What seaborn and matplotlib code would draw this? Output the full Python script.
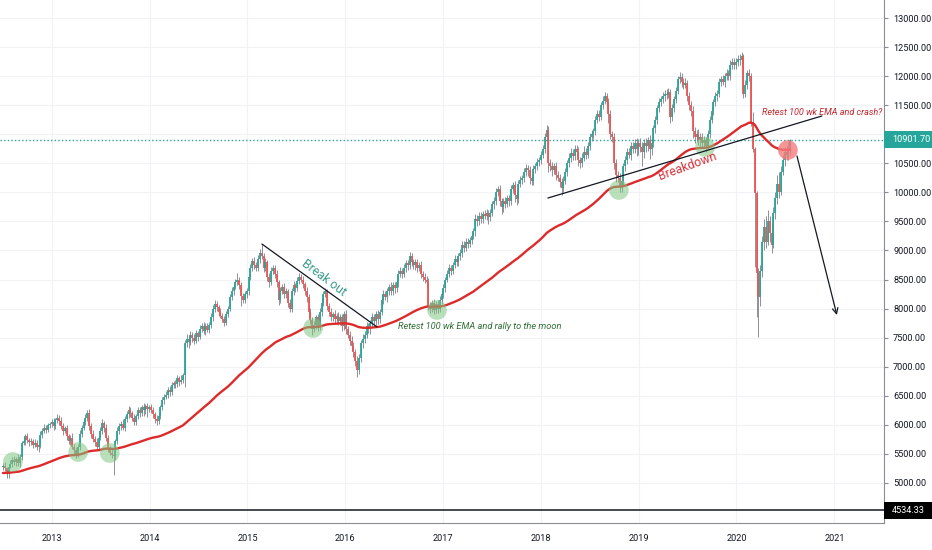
import numpy as np
import pandas as pd
import matplotlib
matplotlib.use("Agg")
import matplotlib.pyplot as plt
from matplotlib.ticker import FixedLocator, FormatStrFormatter
from matplotlib.patches import Rectangle
from matplotlib.transforms import blended_transform_factory
import seaborn as sns

# ---------------- data (weekly closes) ----------------
close_2012 = [5300, 5250, 5150, 5280, 5330, 5400, 5360, 5420, 5340, 5450,
              5680, 5720, 5800, 5740, 5700, 5720, 5660, 5690, 5620, 5650,
              5830, 5900, 5950, 5920, 5990, 6010]
close_2013 = [6050, 5980, 6080, 6120, 6060, 5980, 5900, 5940, 5800, 5720,
              5780, 5620, 5560, 5500, 5620, 5850, 5950, 6050, 6120, 6200,
              5980, 5850, 5760, 5700, 5620, 5780, 5900, 6030, 5950, 5780,
              5600, 5520, 5480, 5460, 5720, 5900, 5980, 6020, 5950, 6100,
              6180, 6250, 6200, 6120, 6050, 6150, 6250, 6200, 6300, 6250,
              6320, 6280]
close_2014 = [6300, 6250, 6180, 6100, 6060, 6150, 6300, 6420, 6480, 6520,
              6600, 6560, 6680, 6720, 6700, 6800, 6740, 6780, 6850, 7400,
              7480, 7420, 7550, 7500, 7450, 7580, 7520, 7650, 7700, 7620,
              7700, 7640, 7720, 7850, 8000, 8080, 8020, 7950, 7880, 7820,
              7760, 7900, 8000, 8200, 8300, 8380, 8450, 8500, 8400, 8220,
              8150, 8250]
close_2015 = [8300, 8550, 8700, 8820, 8750, 8700, 8850, 8950, 8900, 8700,
              8800, 8550, 8450, 8650, 8700, 8600, 8450, 8150, 8300, 8380,
              8250, 8300, 8100, 8000, 8300, 8400, 8350, 8480, 8550, 8500,
              8420, 8300, 8200, 7950, 7800, 7650, 7720, 7850, 7700, 7950,
              8100, 8250, 8300, 8050, 7950, 7850, 7900, 7820, 7880, 7780,
              7850, 7700]
close_2016 = [7900, 7650, 7550, 7450, 7350, 7250, 7100, 6950, 7150, 7400,
              7480, 7550, 7700, 7650, 7750, 7850, 7780, 7900, 7820, 7950,
              8150, 8250, 8200, 8300, 8380, 8300, 8400, 8350, 8450, 8600,
              8650, 8600, 8700, 8780, 8750, 8900, 8800, 8750, 8800, 8700,
              8750, 8600, 8550, 8500, 8450, 8050, 8000, 8100, 7980, 8080,
              8000, 8150]
close_2017 = [8250, 8350, 8500, 8600, 8700, 8650, 8750, 8850, 8800, 8900,
              8950, 9100, 9050, 9150, 9120, 9180, 9250, 9330, 9550, 9500,
              9600, 9550, 9620, 9600, 9650, 9580, 9650, 9800, 9850, 10000,
              10050, 9850, 9750, 9850, 9800, 9900, 9850, 10050, 10120, 9950,
              9880, 10150, 10220, 10250, 10350, 10420, 10380, 10250, 10200, 10400,
              10450, 10520]
close_2018 = [10550, 10650, 10750, 10950, 11080, 10500, 10450, 10380, 10450, 10300,
              10250, 10180, 10080, 10200, 10350, 10500, 10600, 10680, 10620, 10750,
              10700, 10550, 10500, 10600, 10700, 10650, 10800, 10950, 11000, 11050,
              11250, 11350, 11300, 11500, 11580, 11650, 11550, 11350, 11000, 10950,
              10500, 10300, 10250, 10100, 10200, 10450, 10550, 10700, 10650, 10800,
              10750, 10850]
close_2019 = [10750, 10850, 10780, 10700, 10850, 10800, 10900, 10750, 10850, 11100,
              11250, 11450, 11550, 11600, 11650, 11700, 11680, 11720, 11300, 11450,
              11600, 11750, 11950, 11980, 11900, 11850, 11880, 11650, 11500, 11400,
              11050, 10950, 11000, 10900, 10950, 10850, 10900, 10800, 11000, 11250,
              11400, 11550, 11650, 11700, 11900, 11950, 11900, 12000, 12050, 12000,
              12200, 12250]
close_2020 = [12200, 12250, 12300, 12280, 12350, 11700, 11850, 12050, 12000, 11200,
              10750, 9990, 8610, 8200, 8650, 9150, 9400, 9150, 9500, 9300,
              9100, 9650, 9900, 10150, 10000, 10350, 10550, 10700, 10650, 10750,
              10901.7]

# upper / lower wick lengths (points) per week
up_2012 = [40, 60, 30, 50, 70, 40, 60, 35, 80, 50, 40, 70, 45, 60, 30, 55, 40, 65, 50, 35,
           60, 45, 70, 40, 50, 35]
lo_2012 = [60, 40, 60, 70, 30, 50, 45, 70, 40, 60, 50, 30, 60, 45, 70, 40, 55, 35, 60, 80,
           40, 55, 35, 60, 45, 50]
up_2013 = [50, 70, 40, 60, 45, 80, 55, 40, 65, 50, 40, 75, 50, 60, 45, 70, 40, 55, 60, 50,
           80, 45, 60, 50, 70, 40, 55, 65, 45, 60, 50, 40, 70, 55, 45, 60, 50, 40, 75, 45,
           60, 70, 50, 45, 60, 40, 55, 65, 50, 70, 45, 60]
lo_2013 = [45, 60, 50, 40, 70, 55, 80, 45, 60, 50, 65, 40, 55, 70, 45, 50, 60, 40, 55, 45,
           60, 70, 50, 65, 45, 55, 40, 60, 75, 50, 60, 45, 55, 320, 60, 45, 50, 70, 40, 55,
           45, 60, 70, 50, 60, 45, 55, 70, 45, 100, 55, 150]
up_2014 = [40, 60, 50, 45, 70, 55, 40, 60, 50, 65, 45, 70, 50, 40, 60, 55, 45, 70, 50, 60,
           80, 50, 60, 45, 70, 55, 40, 65, 50, 75, 45, 60, 50, 70, 55, 60, 45, 50, 65, 40,
           55, 60, 50, 45, 70, 55, 60, 110, 45, 60, 50, 55]
lo_2014 = [55, 45, 60, 70, 60, 40, 50, 45, 60, 40, 55, 65, 45, 50, 60, 40, 70, 45, 55, 200,
           60, 90, 45, 70, 60, 50, 80, 45, 60, 55, 70, 50, 60, 45, 55, 50, 65, 70, 45, 55,
           60, 40, 50, 45, 55, 60, 50, 45, 70, 180, 60, 50]
up_2015 = [60, 50, 70, 55, 60, 45, 70, 80, 160, 60, 70, 45, 60, 70, 55, 50, 60, 45, 70, 50,
           60, 55, 45, 60, 50, 70, 45, 60, 55, 50, 60, 45, 70, 55, 60, 50, 70, 45, 60, 55,
           70, 50, 60, 45, 55, 60, 50, 70, 45, 60, 50, 55]
lo_2015 = [70, 60, 50, 60, 70, 45, 55, 60, 50, 70, 60, 80, 70, 50, 60, 70, 80, 90, 60, 50,
           70, 60, 80, 60, 50, 60, 70, 55, 60, 50, 70, 60, 80, 90, 70, 100, 60, 70, 80, 60,
           70, 60, 50, 80, 70, 60, 55, 70, 60, 70, 60, 80]
up_2016 = [60, 70, 50, 60, 80, 70, 60, 90, 70, 60, 80, 60, 70, 50, 60, 70, 55, 60, 70, 50,
           60, 70, 55, 60, 50, 70, 60, 55, 60, 70, 60, 50, 70, 60, 55, 70, 60, 50, 60, 55,
           60, 70, 50, 60, 55, 70, 60, 50, 60, 55, 70, 60]
lo_2016 = [70, 80, 60, 70, 60, 80, 90, 130, 70, 60, 70, 80, 60, 70, 80, 60, 70, 60, 80, 70,
           60, 70, 60, 80, 60, 70, 60, 80, 60, 70, 60, 70, 60, 70, 80, 60, 70, 60, 80, 70,
           60, 70, 80, 60, 70, 80, 70, 60, 80, 60, 80, 60]
up_2017 = [60, 70, 50, 60, 70, 55, 60, 70, 50, 60, 70, 60, 55, 70, 60, 50, 70, 60, 80, 60,
           70, 60, 55, 70, 60, 50, 70, 60, 70, 80, 60, 70, 60, 50, 70, 60, 55, 70, 60, 80,
           60, 70, 60, 55, 70, 60, 50, 70, 60, 70, 60, 70]
lo_2017 = [70, 60, 70, 50, 60, 70, 60, 50, 70, 60, 70, 60, 80, 60, 70, 60, 70, 60, 80, 70,
           60, 80, 70, 60, 80, 120, 70, 60, 80, 70, 60, 90, 120, 80, 70, 60, 90, 70, 60, 110,
           90, 70, 60, 80, 70, 60, 90, 110, 80, 70, 60, 70]
up_2018 = [60, 70, 60, 80, 80, 60, 70, 80, 60, 70, 60, 70, 60, 80, 70, 60, 70, 80, 60, 70,
           60, 80, 60, 70, 90, 70, 60, 70, 80, 60, 70, 60, 70, 60, 70, 80, 60, 80, 70, 60,
           80, 70, 60, 80, 70, 60, 80, 60, 70, 60, 70, 60]
lo_2018 = [60, 70, 60, 70, 60, 150, 80, 90, 70, 80, 60, 90, 130, 70, 60, 70, 60, 80, 70, 60,
           70, 90, 80, 70, 60, 80, 60, 70, 60, 80, 70, 60, 70, 60, 70, 60, 80, 150, 80, 90,
           100, 120, 80, 100, 100, 70, 80, 70, 60, 90, 70, 80]
up_2019 = [80, 70, 90, 80, 70, 90, 60, 80, 70, 60, 70, 60, 80, 60, 70, 60, 80, 70, 60, 70,
           60, 70, 60, 90, 70, 60, 80, 60, 70, 80, 90, 70, 80, 90, 70, 80, 70, 60, 70, 60,
           70, 60, 70, 60, 70, 60, 70, 60, 70, 60, 70, 60]
lo_2019 = [120, 100, 90, 250, 100, 110, 90, 180, 100, 70, 80, 70, 60, 70, 60, 70, 80, 60, 100, 80,
           60, 70, 60, 70, 80, 70, 60, 80, 90, 80, 120, 100, 90, 80, 100, 90, 80, 110, 60, 70,
           60, 70, 60, 70, 60, 70, 60, 80, 60, 70, 60, 70]
up_2020 = [60, 70, 60, 80, 60, 30, 80, 60, 70, 50, 180, 30, 40, 90, 100, 100, 150, 200, 200, 100,
           150, 100, 100, 150, 200, 100, 100, 80, 100, 120, 20]
lo_2020 = [80, 70, 80, 90, 70, 80, 60, 70, 80, 50, 50, 1270, 760, 690, 150, 100, 150, 100, 50, 150,
           140, 50, 100, 100, 100, 50, 50, 100, 100, 100, 100]

first_open = 5280
ema_seed = 5170          # 100 wk EMA value at the left edge of the chart
last_price = 10901.70
level_price = 4534.33
year_labels = ["2013", "2014", "2015", "2016", "2017", "2018", "2019", "2020", "2021"]
price_ticks = list(range(5000, 13001, 500))

# ---------------- assemble ----------------
closes = np.array(close_2012 + close_2013 + close_2014 + close_2015 + close_2016 +
                  close_2017 + close_2018 + close_2019 + close_2020, dtype=float)
upper = np.array(up_2012 + up_2013 + up_2014 + up_2015 + up_2016 +
                 up_2017 + up_2018 + up_2019 + up_2020, dtype=float)
lower = np.array(lo_2012 + lo_2013 + lo_2014 + lo_2015 + lo_2016 +
                 lo_2017 + lo_2018 + lo_2019 + lo_2020, dtype=float)
opens = np.concatenate([[first_open], closes[:-1]])
highs = np.maximum(opens, closes) + upper
lows = np.minimum(opens, closes) - lower
dates = pd.date_range("2012-07-02", periods=len(closes), freq="7D")
ema = pd.Series(np.concatenate([[ema_seed], closes])).ewm(span=100, adjust=False).mean().values[1:]
df = pd.DataFrame({"date": dates, "ema": ema})

# ---------------- style ----------------
sns.set_theme(style="white")
plt.rcParams["font.family"] = ["Roboto", "DejaVu Sans"]

UP, DOWN, WICK = "#26a69a", "#ef5350", "#7b7e88"
AX_COL, TXT = "#8a8d96", "#131722"
LBL = 6.6

fig = plt.figure(figsize=(9.32, 5.5), dpi=100)
ax = fig.add_axes([0, 27 / 550, 884 / 932, 523 / 550])
ax.set_xlim(pd.Timestamp("2012-06-21"), pd.Timestamp("2021-07-05"))
ax.set_ylim(4311.8, 13309.7)

# grid
ax.grid(True, color="#f1f2f6", linewidth=0.8, zorder=0)

# candles
is_up = closes >= opens
colors = np.where(is_up, UP, DOWN)
ax.vlines(dates, lows, highs, colors=WICK, linewidth=0.6, zorder=2)
b_lo = np.minimum(opens, closes)
b_hi = np.maximum(opens, closes)
mid = (b_lo + b_hi) / 2
thin = (b_hi - b_lo) < 20
b_lo = np.where(thin, mid - 10, b_lo)
b_hi = np.where(thin, mid + 10, b_hi)
ax.vlines(dates, b_lo, b_hi, colors=colors, linewidth=1.3, zorder=3)

# 100 wk EMA
sns.lineplot(data=df, x="date", y="ema", ax=ax, color="#dd2a2a", linewidth=1.7, zorder=4)
ax.set_xlabel("")
ax.set_ylabel("")

# horizontal lines
ax.axhline(last_price, color=UP, linewidth=1.0, linestyle=(0, (1, 1.6)), zorder=1)
ax.axhline(level_price, color=TXT, linewidth=1.1, zorder=1)

# ---------------- annotations ----------------
T = pd.Timestamp
circ_d = [T("2012-08-08"), T("2013-04-09"), T("2013-08-05"), T("2015-09-03"),
          T("2016-12-09"), T("2018-10-19"), T("2019-09-06")]
circ_p = [5361, 5533, 5516, 7666, 7976, 10041, 10781]
ax.scatter(circ_d, circ_p, s=200, color="#81c784", alpha=0.55, edgecolors="none", zorder=5)
ax.scatter([T("2020-07-11")], [10729], s=200, color="#f47c7c", alpha=0.8, edgecolors="none", zorder=5)

ax.plot([T("2015-02-24"), T("2016-04-29")], [9112, 7684], color=TXT, linewidth=0.9, zorder=6)
ax.plot([T("2018-01-27"), T("2020-11-15")], [9903, 11314], color=TXT, linewidth=0.9, zorder=6)
ax.annotate("", xy=(T("2021-01-10"), 7890), xytext=(T("2020-08-14"), 10626),
            arrowprops=dict(arrowstyle="->", color=TXT, linewidth=0.9, mutation_scale=10,
                            shrinkA=0, shrinkB=0), zorder=6)

ax.text(T("2015-10-14"), 8527, "Break out", rotation=-37, ha="center", va="center",
        color="#3a9d8c", fontsize=8.8, rotation_mode="anchor", zorder=7)
ax.text(T("2016-07-16"), 7684, "Retest 100 wk EMA and rally to the moon", ha="left", va="center",
        color="#2f6f34", fontsize=6.7, style="italic", zorder=7)
ax.text(T("2019-07-04"), 10454, "Breakdown", rotation=20, ha="center", va="center",
        color="#d8343c", fontsize=8.8, rotation_mode="anchor", zorder=7)
ax.text(T("2020-04-05"), 11366, "Retest 100 wk EMA and crash?", ha="left", va="center",
        color="#c3262d", fontsize=6.5, style="italic", zorder=7)

# ---------------- axes ----------------
ax.yaxis.tick_right()
ax.yaxis.set_major_locator(FixedLocator(price_ticks))
ax.yaxis.set_major_formatter(FormatStrFormatter("%.2f"))
ax.set_xticks([T(f"{y}-01-01") for y in year_labels])
ax.set_xticklabels(year_labels)
ax.tick_params(axis="y", direction="out", length=3, width=0.8, color=AX_COL, pad=3.5,
               labelsize=LBL, labelcolor=TXT)
ax.tick_params(axis="x", direction="out", length=3, width=0.8, color=AX_COL, pad=5,
               labelsize=LBL, labelcolor=TXT)
for s in ["left", "top"]:
    ax.spines[s].set_visible(False)
for s in ["right", "bottom"]:
    ax.spines[s].set_color(AX_COL)
    ax.spines[s].set_linewidth(0.8)

# price label boxes on the scale
bt = blended_transform_factory(ax.transAxes, ax.transData)
half = 8.5 / 0.058125
for price, col, txt in [(last_price, UP, "10901.70"), (level_price, "#000000", "4534.33")]:
    ax.add_patch(Rectangle((1.0, price - half), 48 / 884, 2 * half, transform=bt,
                           facecolor=col, edgecolor="none", clip_on=False, zorder=9))
    ax.text(1.0 + 8 / 884, price, txt, transform=bt, ha="left", va="center",
            color="white", fontsize=LBL, clip_on=False, zorder=10)

fig.savefig("out.png", dpi=100)
